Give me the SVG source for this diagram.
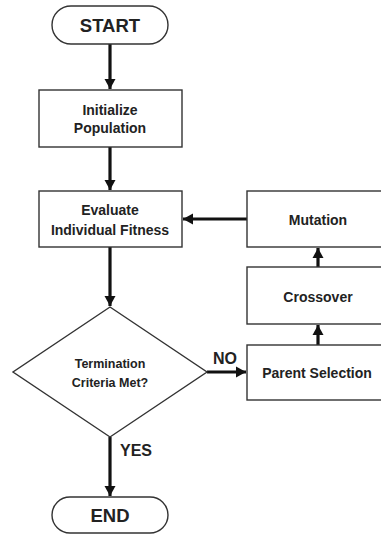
<svg xmlns="http://www.w3.org/2000/svg" width="381" height="535" viewBox="0 0 381 535">
<style>
.box{fill:#fff;stroke:#333;stroke-width:1.4}
.t{font-family:"Liberation Sans",Arial,sans-serif;font-weight:bold;fill:#222;text-anchor:middle}
.b{font-size:14px}
.big{font-size:18.5px}
.lbl{font-size:16px;text-anchor:start}
.d{font-size:12.5px}
.c{fill:none;stroke:#111;stroke-width:3.2}
</style>
<defs>
<marker id="ah" markerUnits="userSpaceOnUse" markerWidth="12" markerHeight="12" refX="10" refY="6" orient="auto">
<path d="M0,0.5 L10,6 L0,11.5 Z" fill="#111"/>
</marker>
</defs>
<rect width="381" height="535" fill="#fff"/>
<g id="connectors">
<line class="c" x1="110" y1="44" x2="110" y2="89" marker-end="url(#ah)"/>
<line class="c" x1="110" y1="147" x2="110" y2="190" marker-end="url(#ah)"/>
<line class="c" x1="110" y1="247" x2="110" y2="306" marker-end="url(#ah)"/>
<line class="c" x1="110" y1="437" x2="110" y2="496" marker-end="url(#ah)"/>
<line class="c" x1="207" y1="372" x2="246" y2="372" marker-end="url(#ah)"/>
<line class="c" x1="318" y1="345" x2="318" y2="325" marker-end="url(#ah)"/>
<line class="c" x1="318" y1="267" x2="318" y2="248" marker-end="url(#ah)"/>
<line class="c" x1="247" y1="219" x2="183" y2="219" marker-end="url(#ah)"/>
<text class="t lbl" x="213" y="364">NO</text>
<text class="t lbl" x="120" y="456">YES</text>
</g>
<g id="start">
<rect class="box" x="52" y="6" width="116" height="38" rx="19"/>
<text class="t big" x="110" y="32">START</text>
</g>
<g id="init">
<rect class="box" x="39" y="90" width="143" height="57"/>
<text class="t b" x="110" y="115">Initialize</text>
<text class="t b" x="110" y="133">Population</text>
</g>
<g id="evaluate">
<rect class="box" x="39" y="191" width="143" height="56"/>
<text class="t b" x="110" y="215">Evaluate</text>
<text class="t b" x="110" y="235">Individual Fitness</text>
</g>
<g id="termination">
<polygon class="box" points="110,307 207,372 110,437 13,372"/>
<text class="t d" x="110" y="368">Termination</text>
<text class="t d" x="110" y="387">Criteria Met?</text>
</g>
<g id="end">
<rect class="box" x="52" y="497" width="116" height="36" rx="18"/>
<text class="t big" x="110" y="522">END</text>
</g>
<g id="mutation">
<rect class="box" x="247" y="191" width="135" height="56"/>
<text class="t b" x="318" y="225">Mutation</text>
</g>
<g id="crossover">
<rect class="box" x="247" y="267" width="135" height="57"/>
<text class="t b" x="318" y="302">Crossover</text>
</g>
<g id="parent">
<rect class="box" x="247" y="345" width="135" height="55"/>
<text class="t b" x="317" y="378">Parent Selection</text>
</g>
</svg>
